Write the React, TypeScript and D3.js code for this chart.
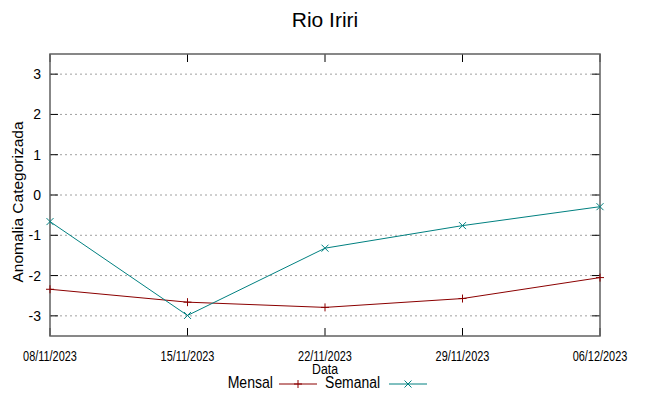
import React from "react";
import * as d3 from "d3";

const dates = ["08/11/2023", "15/11/2023", "22/11/2023", "29/11/2023", "06/12/2023"];
const mensal = [-2.34, -2.66, -2.79, -2.57, -2.05];
const semanal = [-0.66, -2.99, -1.32, -0.76, -0.29];
const yTicks = [-3, -2, -1, 0, 1, 2, 3];

const width = 649;
const height = 396;
const margin = { top: 54, right: 49, bottom: 60, left: 50 };

const parse = d3.timeParse("%d/%m/%Y");

const sans = "'Liberation Sans', Arial, sans-serif";

// gnuplot uses a condensed face; fake it with a horizontal squeeze
const Narrow = ({ x, y, size, sx, anchor, children }: any) => (
  <text
    transform={`translate(${x},${y}) scale(${sx},1)`}
    textAnchor={anchor}
    fontFamily={sans}
    fontSize={size}
  >
    {children}
  </text>
);

const App = () => {
  const x = d3
    .scaleTime()
    .domain([parse(dates[0])!, parse(dates[dates.length - 1])!])
    .range([margin.left, width - margin.right]);
  const y = d3
    .scaleLinear()
    .domain([-3.5, 3.5])
    .range([height - margin.bottom, margin.top]);

  const line = d3
    .line<number>()
    .x((_, i) => x(parse(dates[i])!))
    .y((d) => y(d));

  const x0 = margin.left;
  const x1 = width - margin.right;
  const y0 = height - margin.bottom;
  const y1 = margin.top;
  const red = "#8b0000";
  const teal = "#008080";

  const plus = (cx: number, cy: number, c: string, k: string) => (
    <path key={k} d={`M${cx - 4},${cy}H${cx + 4}M${cx},${cy - 4}V${cy + 4}`} stroke={c} strokeWidth={1} />
  );
  const cross = (cx: number, cy: number, c: string, k: string) => (
    <path key={k} d={`M${cx - 3.5},${cy - 3.5}L${cx + 3.5},${cy + 3.5}M${cx - 3.5},${cy + 3.5}L${cx + 3.5},${cy - 3.5}`} stroke={c} strokeWidth={1} />
  );

  return (
    <svg width={width} height={height} style={{ position: "absolute", left: 0, top: 0, background: "#fff" }}>
      <text x={325} y={27} textAnchor="middle" fontFamily={sans} fontSize={21}>Rio Iriri</text>

      {yTicks.map((t) => (
        <g key={t}>
          <line x1={x0} x2={x1} y1={y(t)} y2={y(t)} stroke="#a0a0a0" strokeDasharray="2,3" />
          <line x1={x0} x2={x0 + 8} y1={y(t)} y2={y(t)} stroke="#000" />
          <line x1={x1 - 8} x2={x1} y1={y(t)} y2={y(t)} stroke="#000" />
          <text x={41} y={y(t) + 5} textAnchor="end" fontFamily={sans} fontSize={14}>{t}</text>
        </g>
      ))}

      {dates.map((d) => {
        const px = x(parse(d)!);
        return (
          <g key={d}>
            <line x1={px} x2={px} y1={y0} y2={y0 - 8} stroke="#000" />
            <line x1={px} x2={px} y1={y1} y2={y1 + 8} stroke="#000" />
            <Narrow x={px} y={360.5} size={14} sx={0.78} anchor="middle">{d}</Narrow>
          </g>
        );
      })}

      <rect x={x0} y={y1} width={x1 - x0} height={y0 - y1} fill="none" stroke="#606060" strokeWidth={1.5} />

      <text transform="translate(23,202) rotate(-90)" textAnchor="middle" fontFamily={sans} fontSize={15.5}>Anomalia Categorizada</text>
      <Narrow x={325} y={374} size={15} sx={0.82} anchor="middle">Data</Narrow>

      <path d={line(mensal)!} fill="none" stroke={red} strokeWidth={1} />
      <path d={line(semanal)!} fill="none" stroke={teal} strokeWidth={1} />
      {mensal.map((v, i) => plus(x(parse(dates[i])!), y(v), red, "m" + i))}
      {semanal.map((v, i) => cross(x(parse(dates[i])!), y(v), teal, "s" + i))}

      <Narrow x={273} y={388} size={16} sx={0.88} anchor="end">Mensal</Narrow>
      <line x1={279} x2={317} y1={384} y2={384} stroke={red} />
      {plus(298, 384, red, "lm")}
      <Narrow x={380} y={388} size={16} sx={0.87} anchor="end">Semanal</Narrow>
      <line x1={389} x2={427} y1={384} y2={384} stroke={teal} />
      {cross(408, 384, teal, "ls")}
    </svg>
  );
};

export default App;
